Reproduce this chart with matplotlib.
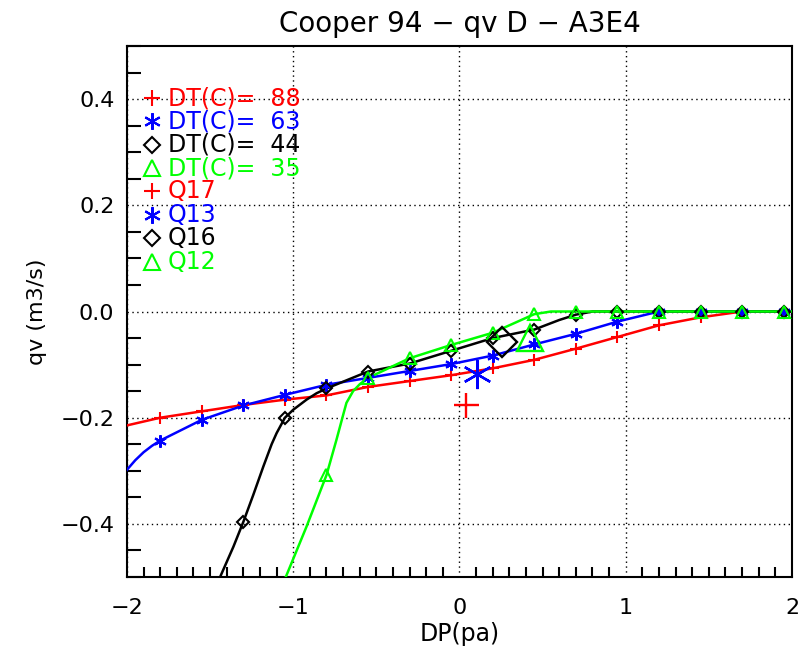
import matplotlib
matplotlib.use("Agg")
import matplotlib.pyplot as plt
from matplotlib.ticker import MultipleLocator

plt.rcParams['font.family'] = ['DejaVu Sans']

# ---- data ----
# marker positions (same DP grid for all series)
dp_marks = [-1.8, -1.55, -1.3, -1.05, -0.8, -0.55, -0.3, -0.05, 0.2, 0.45, 0.7, 0.95, 1.2, 1.45, 1.7, 1.95]

q88_marks = [-0.200, -0.188, -0.176, -0.166, -0.158, -0.142, -0.131, -0.120, -0.107, -0.091, -0.070, -0.048, -0.026, -0.011, 0.0, 0.0]
q63_marks = [-0.243, -0.204, -0.177, -0.157, -0.138, -0.125, -0.112, -0.099, -0.083, -0.062, -0.042, -0.019, 0.0, 0.0, 0.0, 0.0]
q44_dp = [-1.3, -1.05, -0.8, -0.55, -0.3, -0.05, 0.2, 0.45, 0.7, 0.95, 1.2, 1.45, 1.7, 1.95]
q44_marks = [-0.396, -0.200, -0.145, -0.113, -0.098, -0.074, -0.050, -0.034, -0.006, 0.0, 0.0, 0.0, 0.0, 0.0]
q35_dp = [-0.8, -0.55, -0.3, -0.05, 0.2, 0.45, 0.7, 0.95, 1.2, 1.45, 1.7, 1.95]
q35_marks = [-0.308, -0.125, -0.088, -0.063, -0.040, -0.005, 0.0, 0.0, 0.0, 0.0, 0.0, 0.0]

# curves (marker points plus extra points)
q88_line_dp = [-2.0] + dp_marks + [2.0]
q88_line = [-0.2145] + q88_marks + [0.0]
q63_line_dp = [-2.0, -1.95, -1.9, -1.85] + dp_marks + [2.0]
q63_line = [-0.298, -0.280, -0.265, -0.253] + q63_marks + [0.0]
q44_line_dp = [-1.44, -1.36, -1.3, -1.24, -1.18, -1.13, -1.10, -1.05, -1.0, -0.92, -0.86, -0.8, -0.55, -0.3, -0.05, 0.2, 0.45, 0.6, 0.7, 0.8, 0.95, 1.2, 1.45, 1.7, 1.95, 2.0]
q44_line = [-0.50, -0.443, -0.396, -0.345, -0.292, -0.250, -0.229, -0.200, -0.185, -0.166, -0.154, -0.145, -0.113, -0.098, -0.074, -0.050, -0.034, -0.016, -0.006, 0.0, 0.0, 0.0, 0.0, 0.0, 0.0, 0.0]
q35_line_dp = [-1.045, -0.92, -0.8, -0.74, -0.70, -0.68, -0.64, -0.60, -0.55, -0.3, -0.05, 0.2, 0.45, 0.55, 0.7, 0.95, 1.2, 1.45, 1.7, 1.95, 2.0]
q35_line = [-0.50, -0.405, -0.308, -0.2415, -0.195, -0.172, -0.150, -0.137, -0.125, -0.088, -0.063, -0.040, -0.005, 0.0, 0.0, 0.0, 0.0, 0.0, 0.0, 0.0, 0.0]

# measured points Q17, Q13, Q16, Q12
q_dp = [0.04, 0.105, 0.254, 0.424]
q_val = [-0.177, -0.118, -0.0575, -0.050]

legend_labels = ['DT(C)=  88', 'DT(C)=  63', 'DT(C)=  44', 'DT(C)=  35', 'Q17', 'Q13', 'Q16', 'Q12']

colors = ['#ff0000', '#0000ff', '#000000', '#00ff00']
asterisk = (6, 2, 0)
markers = ['+', asterisk, 'D', '^']
msizes = [8, 9, 6, 8]
big_sizes = [18, 21, 15, 19]
leg_sizes = [12, 12, 8, 12]

fig = plt.figure(figsize=(8.03, 6.52), dpi=100)
ax = fig.add_axes([127/803, 1-577/652, (792-127)/803, (577-46)/652])

series = [
    (q88_line_dp, q88_line, dp_marks, q88_marks),
    (q63_line_dp, q63_line, dp_marks, q63_marks),
    (q44_line_dp, q44_line, q44_dp, q44_marks),
    (q35_line_dp, q35_line, q35_dp, q35_marks),
]
for i, (lx, ly, mx, my) in enumerate(series):
    ax.plot(lx, ly, color=colors[i], lw=1.8, zorder=3, clip_on=True)
    ax.plot(mx, my, ls='none', marker=markers[i], ms=msizes[i], mfc='none',
            mec=colors[i], mew=1.5, zorder=4, clip_on=True)

for i in range(4):
    ax.plot([q_dp[i]], [q_val[i]], ls='none', marker=markers[i], ms=big_sizes[i],
            mfc='none', mec=colors[i], mew=1.7, zorder=5)

ax.set_xlim(-2, 2)
ax.set_ylim(-0.5, 0.5)
ax.xaxis.set_major_locator(MultipleLocator(1))
ax.xaxis.set_minor_locator(MultipleLocator(0.1))
ax.yaxis.set_major_locator(MultipleLocator(0.2))
ax.yaxis.set_minor_locator(MultipleLocator(0.05))
ax.xaxis.set_major_formatter(plt.FuncFormatter(lambda v, p: f"{v:.0f}".replace('-', '\u2212')))
ax.yaxis.set_major_formatter(plt.FuncFormatter(lambda v, p: f"{v:.1f}".replace('-', '\u2212')))

ax.tick_params(which='major', direction='in', length=0, labelsize=16, top=False, right=False)
ax.tick_params(axis='x', which='major', pad=15)
ax.tick_params(axis='y', which='major', pad=9)
ax.tick_params(axis='y', which='minor', direction='in', length=10, width=1.5, top=False, right=False)
ax.tick_params(axis='x', which='minor', direction='in', length=7, width=1.5, top=False, right=False)
ax.grid(which='major', ls=(0, (1, 2.5)), color='black', lw=1.0)
for s in ax.spines.values():
    s.set_linewidth(1.5)

ax.set_xlabel('DP(pa)', fontsize=17, labelpad=3)
ax.set_ylabel('qv (m3/s)', fontsize=16, labelpad=10)
ax.set_title('Cooper 94 \u2212 qv D \u2212 A3E4', fontsize=20, pad=10)

# legend drawn as text rows
leg_x_mark = -1.85
leg_x_text = -1.755
leg_y0 = 0.402
leg_dy = 0.044
for k, lab in enumerate(legend_labels):
    c = colors[k % 4]
    y = leg_y0 - k * leg_dy
    ax.plot([leg_x_mark], [y], ls='none', marker=markers[k % 4], ms=leg_sizes[k % 4],
            mfc='none', mec=c, mew=1.5, zorder=6)
    ax.text(leg_x_text, y, lab, color=c, fontsize=17, va='center', ha='left', zorder=6)

fig.savefig('out.png', dpi=100)
